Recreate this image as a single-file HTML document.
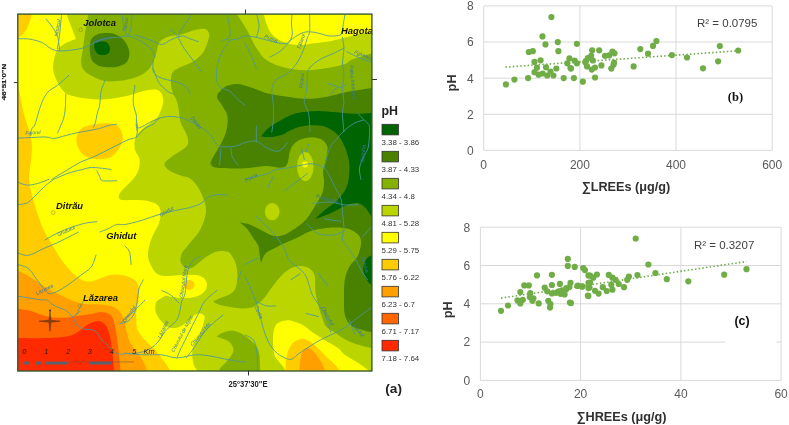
<!DOCTYPE html>
<html><head><meta charset="utf-8"><title>pH map and scatter plots</title>
<style>html,body{margin:0;padding:0;background:#fff;width:789px;height:425px;overflow:hidden}svg{display:block}</style>
</head><body>
<svg width="789" height="425" viewBox="0 0 789 425" font-family="'Liberation Sans', Arial, sans-serif">
<defs><clipPath id="mc"><rect x="17.8" y="14.1" width="354.1" height="356.9"/></clipPath></defs>
<rect x="0" y="0" width="789" height="425" fill="#84b000" clip-path="url(#mc)"/>
<g clip-path="url(#mc)"><path d="M10.0 5.0C10.0 5.0 88.0 5.0 88.0 5.0C88.0 5.0 88.5 10.3 88.0 15.0C87.5 19.7 85.9 27.2 85.0 33.0C84.1 38.8 83.4 45.3 82.8 50.0C82.2 54.7 81.2 57.8 81.2 61.0C81.2 64.2 81.4 66.6 83.0 69.0C84.6 71.4 87.4 73.5 91.0 75.5C94.6 77.5 100.1 80.1 104.6 81.0C109.1 81.9 113.6 81.3 117.8 81.0C122.0 80.7 126.1 80.0 130.0 79.0C133.9 78.0 137.8 76.7 141.0 75.0C144.2 73.3 146.8 71.7 149.0 69.0C151.2 66.3 153.2 62.2 154.5 59.0C155.8 55.8 156.2 52.8 157.0 50.0C157.8 47.2 158.0 44.1 159.5 42.0C161.0 39.9 163.4 38.5 166.0 37.4C168.6 36.3 172.2 35.9 175.0 35.3C177.8 34.7 179.7 34.9 183.0 34.0C186.3 33.1 191.3 30.8 195.0 30.0C198.7 29.2 202.6 28.3 205.0 29.0C207.4 29.7 208.9 31.7 209.2 34.2C209.5 36.7 208.2 40.7 207.0 44.0C205.8 47.3 204.7 50.9 202.0 54.0C199.3 57.1 194.9 60.5 191.0 62.8C187.1 65.1 181.7 66.2 178.5 68.0C175.3 69.8 173.2 70.7 172.0 73.4C170.8 76.1 170.8 80.7 171.0 84.0C171.2 87.3 172.1 90.8 173.0 93.5C173.9 96.2 175.6 97.6 176.5 100.0C177.4 102.4 177.7 104.3 178.4 108.0C179.1 111.7 179.3 118.0 180.5 122.0C181.7 126.0 184.2 129.0 185.5 132.0C186.8 135.0 187.9 137.5 188.0 140.0C188.1 142.5 188.7 144.3 186.0 147.0C183.3 149.7 175.6 153.6 172.0 156.4C168.4 159.2 164.8 161.6 164.5 164.0C164.2 166.4 167.3 169.1 170.0 171.0C172.7 172.9 177.2 174.2 180.5 175.5C183.8 176.8 187.0 176.4 190.0 178.5C193.0 180.6 196.1 184.1 198.5 188.0C200.9 191.9 203.3 198.4 204.6 202.0C205.8 205.6 205.9 207.1 206.0 209.5C206.1 211.9 205.9 213.7 205.3 216.2C204.7 218.7 203.7 221.9 202.5 224.7C201.3 227.5 200.0 230.4 198.2 233.1C196.4 235.8 193.5 238.6 191.5 241.0C189.5 243.4 187.8 245.6 186.3 247.5C184.8 249.4 183.2 250.8 182.3 252.5C181.4 254.2 180.8 256.3 180.6 258.0C180.3 259.7 180.4 261.3 180.8 262.6C181.2 263.9 182.2 264.9 183.2 265.9C184.2 266.8 185.8 267.9 187.0 268.3C188.2 268.7 189.3 268.8 190.7 268.3C192.1 267.8 193.7 266.7 195.4 265.4C197.1 264.1 199.1 262.3 201.1 260.7C203.1 259.1 205.6 257.3 207.6 256.0C209.6 254.7 211.4 253.5 213.3 252.7C215.2 251.9 217.1 251.5 219.0 251.3C220.9 251.1 222.8 251.0 224.6 251.3C226.4 251.6 228.2 251.2 230.0 253.2C231.8 255.2 234.4 259.5 235.6 263.2C236.8 266.9 237.4 271.5 237.4 275.6C237.4 279.7 236.8 284.9 235.6 288.0C234.4 291.1 232.7 292.4 230.3 294.0C227.9 295.6 223.9 296.6 221.0 297.8C218.1 299.1 213.0 301.5 213.0 301.5C213.0 301.5 217.2 304.1 220.0 305.0C222.8 305.9 226.3 306.4 230.0 307.0C233.7 307.6 238.9 308.4 242.4 308.5C245.9 308.6 248.6 308.3 251.0 307.6C253.4 306.9 254.9 306.0 257.0 304.5C259.1 303.0 261.2 301.6 263.8 298.5C266.4 295.4 269.5 290.3 272.7 286.2C275.9 282.1 280.0 276.9 283.2 273.8C286.4 270.7 289.2 269.0 292.1 267.7C295.1 266.4 298.0 265.8 300.9 265.9C303.8 266.0 307.4 266.8 309.7 268.5C312.0 270.2 313.9 272.4 314.8 276.0C315.7 279.6 314.7 285.4 315.3 290.2C315.9 295.0 317.1 300.5 318.2 305.0C319.3 309.5 320.7 313.4 322.0 317.0C323.3 320.6 323.8 323.9 326.0 326.5C328.2 329.1 332.3 330.7 335.0 332.5C337.7 334.3 339.0 335.7 342.0 337.5C345.0 339.3 348.3 341.4 353.1 343.1C357.9 344.9 366.5 347.0 371.0 348.0C375.5 349.0 380.0 349.0 380.0 349.0C380.0 349.0 380.0 380.0 380.0 380.0C380.0 380.0 10.0 380.0 10.0 380.0C10.0 380.0 10.0 5.0 10.0 5.0Z" fill="#bbd500"/><path d="M234.0 5.0C234.0 5.0 234.4 9.4 235.6 12.0C236.8 14.6 239.0 17.3 241.0 20.5C243.0 23.7 245.4 27.2 247.5 31.0C249.6 34.8 251.7 39.7 253.5 43.0C255.3 46.3 256.7 48.4 258.5 51.0C260.3 53.6 261.6 56.3 264.5 58.6C267.4 60.9 271.4 63.2 276.2 65.0C281.0 66.8 287.5 68.3 293.1 69.2C298.8 70.1 304.5 70.4 310.1 70.2C315.8 70.0 321.2 69.1 327.0 68.1C332.8 67.0 340.8 65.3 345.0 63.9C349.2 62.5 347.9 61.2 352.3 59.5C356.7 57.8 366.7 54.9 371.3 53.5C375.9 52.1 380.0 51.0 380.0 51.0C380.0 51.0 380.0 5.0 380.0 5.0C380.0 5.0 234.0 5.0 234.0 5.0Z" fill="#bbd500"/><path d="M10.0 5.0C10.0 5.0 67.0 5.0 67.0 5.0C67.0 5.0 66.1 11.0 67.0 15.0C67.9 19.0 70.7 25.0 72.2 29.0C73.7 33.0 76.0 39.0 76.0 39.0C76.0 39.0 69.0 41.3 66.0 43.0C63.0 44.7 60.0 46.4 58.0 49.0C56.0 51.6 55.0 55.2 54.2 58.6C53.4 62.0 52.8 65.7 53.1 69.2C53.5 72.7 54.9 76.5 56.3 79.8C57.7 83.1 59.8 86.7 61.6 89.0C63.4 91.3 64.9 92.7 67.0 93.9C69.1 95.1 70.5 95.4 74.0 96.2C77.5 97.0 83.4 98.2 88.0 98.8C92.6 99.3 97.2 99.6 101.8 99.5C106.4 99.4 111.2 98.8 115.8 98.1C120.4 97.4 125.5 96.3 129.7 95.3C133.9 94.2 137.4 92.7 140.9 91.8C144.4 90.9 147.8 90.1 150.6 89.8C153.4 89.5 155.7 89.3 157.6 90.0C159.5 90.7 160.9 92.2 161.8 94.0C162.7 95.8 163.2 98.7 163.2 101.0C163.2 103.3 162.7 105.3 161.8 108.0C160.9 110.7 159.4 114.6 157.6 117.0C155.8 119.4 153.7 120.2 150.8 122.5C147.9 124.8 142.8 128.2 140.2 131.0C137.6 133.8 135.9 136.3 135.0 139.5C134.1 142.7 134.3 147.1 135.0 150.0C135.7 152.9 138.1 154.8 138.9 157.1C139.7 159.4 139.9 161.5 139.7 164.1C139.5 166.7 138.7 170.0 137.5 172.6C136.3 175.2 134.6 177.3 132.6 179.7C130.6 182.0 127.7 184.4 125.5 186.7C123.3 189.0 120.7 191.6 119.6 193.5C118.5 195.4 118.4 196.9 119.0 198.0C119.6 199.1 119.8 199.8 123.0 200.1C126.2 200.4 133.8 199.9 138.2 200.1C142.6 200.3 146.3 200.7 149.5 201.5C152.7 202.3 155.7 203.3 157.5 205.0C159.3 206.7 160.3 208.9 160.6 211.8C160.9 214.7 160.4 218.9 159.3 222.4C158.2 225.9 155.6 229.5 154.0 233.0C152.4 236.5 150.8 240.0 149.8 243.5C148.8 247.0 148.1 250.9 148.0 254.0C147.9 257.1 148.2 259.0 149.4 262.0C150.6 265.0 152.9 269.8 155.1 272.1C157.3 274.4 158.7 275.3 162.6 275.8C166.5 276.3 173.7 275.4 178.5 275.2C183.3 275.0 187.7 274.7 191.2 274.8C194.7 274.9 197.2 275.0 199.6 275.8C201.9 276.6 204.1 278.3 205.3 279.8C206.5 281.3 207.0 282.9 207.0 284.7C207.0 286.4 206.5 288.5 205.3 290.3C204.1 292.1 201.9 294.1 199.6 295.3C197.2 296.6 194.2 297.3 191.2 297.8C188.1 298.3 184.4 298.2 181.3 298.1C178.2 298.0 175.4 297.4 172.8 297.0C170.2 296.6 168.0 295.8 166.0 296.0C164.0 296.2 162.3 297.4 160.7 298.4C159.1 299.4 157.3 300.1 156.4 302.0C155.5 303.9 155.0 307.0 155.3 309.6C155.6 312.2 156.5 315.0 158.4 317.7C160.3 320.4 163.9 324.2 166.6 325.9C169.3 327.6 172.1 328.2 174.8 328.0C177.5 327.8 180.6 326.3 183.0 324.9C185.4 323.5 186.9 321.6 189.1 319.8C191.3 318.0 194.1 315.3 196.1 314.3C198.1 313.3 199.6 313.2 201.0 313.6C202.4 314.0 204.2 315.2 204.6 316.8C205.0 318.4 204.2 320.6 203.6 323.0C203.0 325.4 202.2 328.1 201.0 331.0C199.8 333.9 197.7 336.9 196.3 340.2C194.9 343.4 192.9 346.8 192.4 350.5C191.9 354.2 192.4 359.1 193.2 362.7C194.0 366.3 196.6 369.1 197.3 372.0C198.0 374.9 197.5 380.0 197.5 380.0C197.5 380.0 10.0 380.0 10.0 380.0C10.0 380.0 10.0 5.0 10.0 5.0Z" fill="#ffff00"/><path d="M262.0 5.0C262.0 5.0 263.1 11.3 264.0 15.0C264.9 18.7 266.2 23.6 267.7 27.0C269.2 30.4 270.4 32.8 273.0 35.3C275.6 37.8 278.9 40.2 283.0 41.8C287.1 43.4 292.2 44.8 297.4 45.0C302.6 45.2 308.7 43.9 314.3 43.2C319.9 42.5 324.9 42.2 331.2 41.0C337.5 39.8 345.6 37.5 352.3 35.8C359.0 34.1 366.7 32.1 371.3 31.0C375.9 29.9 380.0 29.0 380.0 29.0C380.0 29.0 380.0 5.0 380.0 5.0C380.0 5.0 262.0 5.0 262.0 5.0Z" fill="#ffff00"/><path d="M285.0 380.0C285.0 380.0 285.6 372.4 284.7 369.5C283.8 366.6 281.3 364.9 279.7 362.7C278.1 360.4 275.9 358.8 274.8 356.0C273.7 353.2 273.5 349.5 273.2 346.0C272.9 342.5 272.9 338.2 273.2 335.0C273.5 331.8 273.9 328.7 275.0 326.5C276.1 324.3 277.5 323.0 280.0 322.0C282.5 321.0 286.3 319.9 290.1 320.4C293.9 320.9 298.9 323.0 302.7 325.0C306.5 327.0 309.0 329.9 312.8 332.5C316.6 335.1 321.2 337.9 325.4 340.5C329.6 343.1 334.7 345.7 338.0 348.1C341.3 350.5 341.7 352.6 345.0 355.0C348.3 357.4 353.8 360.2 357.6 362.6C361.4 365.1 365.2 368.0 367.6 369.7C370.0 371.4 369.9 371.6 372.0 373.0C374.1 374.4 380.0 378.0 380.0 378.0C380.0 378.0 380.0 380.0 380.0 380.0C380.0 380.0 285.0 380.0 285.0 380.0Z" fill="#ffff00"/><path d="M10.0 5.0C10.0 5.0 31.8 5.0 31.8 5.0C31.8 5.0 31.8 12.4 31.5 15.0C31.2 17.6 30.7 18.3 30.0 20.5C29.3 22.7 28.3 25.8 27.2 28.0C26.1 30.2 24.8 32.0 23.5 33.6C22.2 35.2 20.4 36.5 19.2 37.4C17.9 38.3 17.5 38.6 16.0 39.0C14.5 39.4 10.0 40.0 10.0 40.0C10.0 40.0 10.0 5.0 10.0 5.0Z" fill="#ffcc00"/><path d="M10.0 82.0C10.0 82.0 15.4 81.3 17.0 83.0C18.6 84.7 18.8 88.7 19.5 92.0C20.2 95.3 20.7 99.0 21.5 103.0C22.3 107.0 23.4 112.2 24.5 116.2C25.6 120.2 26.9 123.5 28.0 127.0C29.1 130.5 30.2 133.9 30.9 137.4C31.6 140.9 31.9 144.6 32.0 148.0C32.0 151.4 31.5 154.7 31.2 158.0C30.9 161.3 30.4 164.7 30.0 168.0C29.6 171.3 28.9 174.2 29.0 178.0C29.1 181.8 30.0 186.4 30.9 190.6C31.8 194.8 32.9 199.1 34.1 203.3C35.3 207.5 36.8 211.8 38.3 216.0C39.8 220.2 41.0 224.2 43.0 228.5C45.0 232.8 47.9 237.5 50.5 242.0C53.1 246.5 55.8 251.3 58.5 255.5C61.2 259.7 64.1 263.6 67.0 267.0C69.9 270.4 73.0 273.7 76.0 276.0C79.0 278.3 81.9 280.2 84.7 281.0C87.5 281.8 90.0 281.6 93.0 281.0C96.0 280.4 99.5 278.2 102.8 277.2C106.1 276.1 109.1 275.0 112.7 274.7C116.3 274.4 120.6 274.7 124.2 275.5C127.8 276.3 131.7 277.8 134.1 279.6C136.5 281.4 137.7 283.8 138.5 286.5C139.3 289.2 139.2 292.8 139.0 296.0C138.8 299.2 137.9 302.7 137.4 306.0C136.9 309.3 136.1 311.9 136.2 316.0C136.3 320.1 135.9 326.0 137.8 330.5C139.8 335.0 144.5 339.3 147.9 343.1C151.3 346.9 155.1 349.8 158.0 353.2C160.9 356.6 163.4 360.2 165.5 363.3C167.6 366.4 169.6 369.2 170.6 372.0C171.6 374.8 171.5 380.0 171.5 380.0C171.5 380.0 10.0 380.0 10.0 380.0C10.0 380.0 10.0 82.0 10.0 82.0Z" fill="#ffcc00"/><path d="M76.4 141.0C76.2 138.0 77.1 134.4 78.5 132.0C79.9 129.6 82.1 127.8 85.0 126.5C87.9 125.2 91.7 124.5 96.0 124.0C100.3 123.5 106.8 123.1 110.6 123.6C114.4 124.1 117.0 124.7 119.0 127.0C121.0 129.3 122.7 134.1 122.9 137.4C123.1 140.7 121.7 144.0 120.0 147.0C118.3 150.0 115.3 153.6 113.0 155.5C110.7 157.4 109.2 157.9 106.4 158.5C103.6 159.1 99.4 159.5 96.0 159.2C92.6 158.9 88.8 158.0 86.0 156.5C83.2 155.0 81.1 152.6 79.5 150.0C77.9 147.4 76.6 144.0 76.4 141.0Z" fill="#ffcc00"/><path d="M285.3 380.0C285.3 380.0 285.3 371.7 285.5 368.0C285.7 364.3 286.0 360.9 286.5 358.0C287.0 355.1 287.2 353.0 288.3 350.5C289.4 348.0 291.2 344.7 293.2 342.8C295.1 340.9 297.9 339.7 300.0 339.2C302.1 338.7 303.4 338.5 306.0 339.6C308.6 340.7 311.7 342.7 315.3 345.8C318.9 348.9 324.1 354.5 327.9 358.2C331.7 361.9 335.6 364.6 338.0 368.2C340.4 371.8 342.0 380.0 342.0 380.0C342.0 380.0 285.3 380.0 285.3 380.0Z" fill="#ffcc00"/><path d="M10.0 270.0C10.0 270.0 15.2 270.1 18.2 271.0C21.1 271.9 24.4 273.6 27.7 275.5C31.0 277.4 34.8 280.2 38.3 282.5C41.8 284.8 44.9 287.0 48.8 289.2C52.7 291.4 57.6 293.7 61.5 295.6C65.4 297.5 68.1 299.1 72.0 300.5C75.9 301.9 80.1 303.4 84.7 304.0C89.3 304.6 95.1 304.1 99.5 304.4C103.9 304.7 107.8 304.9 111.1 306.0C114.4 307.1 117.1 308.7 119.3 311.0C121.5 313.3 123.1 317.0 124.2 320.0C125.3 323.0 125.0 325.1 126.0 329.0C127.0 332.9 128.3 339.1 130.3 343.1C132.3 347.1 135.7 350.2 137.8 353.2C139.9 356.1 141.3 357.7 142.9 360.8C144.5 363.9 146.7 368.8 147.5 372.0C148.3 375.2 148.0 380.0 148.0 380.0C148.0 380.0 10.0 380.0 10.0 380.0C10.0 380.0 10.0 270.0 10.0 270.0Z" fill="#ffa000"/><path d="M299.0 380.0C299.0 380.0 299.2 371.7 299.5 368.0C299.8 364.3 299.9 360.8 300.5 358.0C301.1 355.2 301.8 352.6 303.0 351.0C304.2 349.4 305.9 348.0 307.8 348.1C309.7 348.2 312.0 349.8 314.1 351.9C316.2 354.0 318.7 358.0 320.4 360.7C322.1 363.4 323.2 365.0 324.1 368.2C325.0 371.4 326.0 380.0 326.0 380.0C326.0 380.0 299.0 380.0 299.0 380.0Z" fill="#ffa000"/><path d="M10.0 309.0C10.0 309.0 14.7 308.7 18.0 309.0C21.3 309.3 26.4 310.0 30.0 310.8C33.6 311.6 36.3 313.0 39.4 314.0C42.5 315.0 45.7 316.2 48.8 316.8C51.9 317.4 54.9 317.7 58.0 317.8C61.1 317.9 64.0 317.9 67.7 317.5C71.4 317.1 76.1 316.1 80.0 315.5C83.9 314.9 87.5 314.6 91.0 314.0C94.5 313.4 97.9 312.0 101.0 312.0C104.1 312.0 107.3 312.9 109.4 314.2C111.5 315.5 112.3 316.9 113.5 320.0C114.7 323.1 115.5 328.0 116.3 333.0C117.1 338.0 117.8 343.8 118.5 350.0C119.2 356.2 120.1 365.0 120.5 370.0C120.9 375.0 121.0 380.0 121.0 380.0C121.0 380.0 10.0 380.0 10.0 380.0C10.0 380.0 10.0 309.0 10.0 309.0Z" fill="#ff6600"/><path d="M10.0 338.0C10.0 338.0 13.3 338.0 18.4 338.0C23.5 338.0 33.9 338.3 40.4 338.2C46.9 338.1 52.3 338.1 57.4 337.6C62.5 337.2 67.2 336.7 71.0 335.5C74.8 334.3 77.5 332.1 80.0 330.5C82.5 328.9 84.0 327.1 86.0 325.8C88.0 324.5 89.7 323.4 92.0 322.6C94.3 321.8 97.4 320.7 99.7 321.2C102.0 321.7 104.1 323.0 105.8 325.5C107.5 328.0 108.7 331.7 109.8 336.0C110.9 340.3 111.5 345.8 112.2 351.5C112.9 357.2 113.6 365.2 114.0 370.0C114.4 374.8 114.5 380.0 114.5 380.0C114.5 380.0 10.0 380.0 10.0 380.0C10.0 380.0 10.0 338.0 10.0 338.0Z" fill="#ff2a00"/><path d="M216.5 336.6C216.5 336.6 219.7 334.0 222.0 333.0C224.3 332.0 227.7 330.8 230.5 330.7C233.3 330.6 235.9 331.1 239.0 332.5C242.1 333.9 246.4 336.8 249.2 339.0C252.0 341.2 254.2 343.3 255.9 345.8C257.6 348.3 258.6 350.2 259.3 354.2C260.0 358.1 260.0 365.2 260.2 369.5C260.4 373.8 260.5 380.0 260.5 380.0C260.5 380.0 218.0 380.0 218.0 380.0C218.0 380.0 218.3 372.4 219.5 369.5C220.7 366.6 223.3 365.2 225.4 362.7C227.5 360.1 230.9 356.7 232.2 354.2C233.5 351.7 233.7 349.6 233.1 347.5C232.5 345.4 230.7 343.0 228.8 341.5C227.0 340.0 224.1 339.4 222.0 338.6C219.9 337.8 216.5 336.6 216.5 336.6Z" fill="#84b000"/><path d="M91.5 39.0C92.6 37.4 94.2 35.8 96.4 34.8C98.6 33.8 101.6 33.2 104.6 33.1C107.6 33.0 111.5 32.9 114.5 33.9C117.5 34.9 120.6 36.8 122.8 38.9C125.0 41.0 126.6 43.7 127.7 46.3C128.8 48.9 129.7 51.8 129.4 54.5C129.1 57.2 128.3 60.7 126.1 62.8C123.9 64.9 119.8 66.2 116.2 66.9C112.6 67.6 107.9 67.4 104.6 67.0C101.3 66.6 98.6 65.7 96.4 64.4C94.2 63.2 92.6 61.7 91.5 59.5C90.4 57.3 90.0 53.7 89.8 51.2C89.5 48.7 89.7 46.6 90.0 44.6C90.3 42.6 90.4 40.6 91.5 39.0Z" fill="#488200"/><path d="M94.8 43.0C95.7 42.0 97.8 41.5 99.7 41.4C101.6 41.3 104.7 41.4 106.3 42.2C107.9 43.0 109.0 44.8 109.6 46.3C110.1 47.8 110.1 49.8 109.6 51.2C109.0 52.6 107.9 53.9 106.3 54.5C104.7 55.1 101.5 55.2 99.7 54.7C97.9 54.2 96.5 52.7 95.6 51.4C94.7 50.1 94.4 48.5 94.3 47.1C94.2 45.7 93.9 44.0 94.8 43.0Z" fill="#006400"/><path d="M217.0 97.0C216.8 94.4 219.2 91.9 221.0 90.0C222.8 88.1 225.2 86.5 228.0 85.5C230.8 84.5 234.7 83.8 238.0 84.0C241.3 84.2 244.7 85.5 248.0 86.5C251.3 87.5 254.7 88.8 258.0 90.0C261.3 91.2 263.2 92.4 268.0 93.5C272.8 94.6 280.3 95.8 287.0 96.7C293.7 97.6 301.3 98.8 308.0 98.8C314.7 98.8 320.8 97.8 327.0 96.7C333.2 95.7 337.6 93.9 345.0 92.5C352.4 91.1 365.5 89.0 371.3 88.1C377.1 87.2 380.0 87.0 380.0 87.0C380.0 87.0 380.0 331.0 380.0 331.0C380.0 331.0 375.3 332.1 372.7 332.0C370.1 331.9 368.0 331.5 364.4 330.4C360.8 329.3 354.4 327.9 351.2 325.4C348.0 322.9 346.2 319.9 345.0 315.5C343.8 311.1 344.0 305.0 344.0 299.0C344.0 293.0 343.9 284.9 344.8 279.5C345.7 274.1 347.5 270.3 349.6 266.5C351.7 262.7 355.6 260.3 357.5 256.5C359.4 252.7 360.8 247.1 361.0 243.5C361.2 239.9 360.6 237.4 358.5 235.0C356.4 232.6 352.8 230.1 348.3 228.8C343.8 227.6 337.4 227.2 331.4 227.5C325.4 227.8 317.4 229.2 312.3 230.6C307.2 232.0 304.4 234.2 301.0 235.8C297.6 237.4 295.0 238.7 292.0 240.0C289.0 241.3 285.9 242.6 283.2 243.8C280.5 245.1 278.5 246.2 276.0 247.5C273.5 248.8 270.0 250.2 268.0 251.5C266.0 252.8 265.2 253.5 264.0 255.5C262.8 257.5 261.0 263.5 261.0 263.5C261.0 263.5 260.1 257.9 259.6 255.0C259.2 252.1 259.4 248.9 258.3 246.0C257.2 243.1 255.0 240.5 253.0 237.5C251.0 234.5 248.6 230.5 246.4 228.0C244.2 225.5 239.6 222.4 239.6 222.4C239.6 222.4 245.5 222.9 249.1 224.2C252.7 225.5 257.2 228.1 261.0 230.0C264.8 231.9 268.5 234.6 272.0 235.5C275.5 236.4 278.7 236.3 282.0 235.5C285.3 234.7 288.1 233.2 292.0 230.6C295.9 228.0 301.8 224.1 305.6 220.0C309.4 215.9 312.3 210.3 315.0 206.0C317.7 201.7 320.5 198.0 322.0 194.1C323.5 190.2 323.8 186.3 324.0 182.4C324.2 178.5 322.9 174.5 323.2 170.5C323.5 166.5 325.3 162.4 326.0 158.5C326.7 154.6 328.1 150.1 327.4 147.0C326.7 143.9 324.5 141.4 322.0 139.8C319.5 138.2 315.8 137.2 312.2 137.2C308.6 137.1 303.7 138.2 300.5 139.5C297.3 140.8 294.8 142.8 293.0 145.0C291.2 147.2 290.4 150.0 289.5 153.0C288.6 156.0 288.8 160.6 287.6 163.0C286.4 165.4 285.8 167.1 282.1 167.6C278.4 168.1 271.1 165.9 265.6 166.0C260.1 166.1 254.2 167.6 249.1 168.0C244.0 168.4 239.5 168.5 235.0 168.5C230.5 168.5 225.6 168.2 222.0 168.0C218.4 167.8 215.5 167.9 213.6 167.0C211.7 166.1 210.4 164.9 210.6 162.8C210.8 160.7 213.0 157.5 214.7 154.3C216.4 151.1 219.1 147.6 221.0 143.7C222.9 139.8 225.2 135.6 226.3 131.0C227.4 126.4 228.1 120.4 227.4 116.2C226.7 112.0 223.8 108.8 222.1 105.6C220.4 102.4 217.2 99.6 217.0 97.0Z" fill="#488200"/><ellipse cx="305.3" cy="166.5" rx="8.3" ry="14.6" fill="#bbd500"/><ellipse cx="272.2" cy="211.6" rx="7.4" ry="8.6" fill="#bbd500"/><ellipse cx="305.0" cy="164.4" rx="2.9" ry="3.0" fill="#ffff00"/><path d="M261.0 136.5C261.0 136.5 265.7 130.2 269.0 127.5C272.3 124.8 276.9 122.5 280.6 120.4C284.3 118.3 288.0 116.4 291.2 115.1C294.4 113.8 295.5 113.2 300.0 112.5C304.5 111.8 312.3 110.9 318.4 110.9C324.5 110.9 330.6 111.8 336.7 112.3C342.8 112.8 349.4 113.7 355.1 113.8C360.8 113.9 366.9 113.1 371.0 113.0C375.1 112.9 380.0 113.0 380.0 113.0C380.0 113.0 380.0 218.0 380.0 218.0C380.0 218.0 374.2 218.1 371.9 216.5C369.6 214.9 368.3 210.7 366.0 208.5C363.7 206.3 361.6 203.7 358.2 203.2C354.8 202.7 350.5 203.9 345.9 205.6C341.3 207.3 335.8 211.1 330.6 213.3C325.5 215.5 315.0 219.0 315.0 219.0C315.0 219.0 320.9 213.2 324.5 210.2C328.1 207.2 333.1 204.6 336.7 201.0C340.3 197.4 343.8 192.9 345.9 188.8C347.9 184.7 348.5 181.1 349.0 176.5C349.5 171.9 349.8 166.3 349.0 161.2C348.2 156.1 346.4 150.6 344.4 146.0C342.3 141.4 340.0 136.9 336.7 133.7C333.4 130.4 328.6 127.9 324.5 126.5C320.4 125.1 316.3 125.2 312.2 125.2C308.1 125.2 303.7 125.9 300.0 126.8C296.3 127.7 292.9 129.2 290.0 130.5C287.1 131.8 285.7 133.5 282.7 134.6C279.7 135.7 275.6 136.7 272.0 137.0C268.4 137.3 261.0 136.5 261.0 136.5Z" fill="#006400"/><path d="M380.0 254.0C380.0 254.0 373.3 254.6 371.0 255.5C368.7 256.4 367.2 257.8 366.0 259.5C364.8 261.2 363.9 263.8 363.5 266.0C363.1 268.2 363.2 270.8 363.7 273.0C364.2 275.2 365.3 277.6 366.5 279.5C367.7 281.4 368.8 283.4 371.0 284.5C373.2 285.6 380.0 286.0 380.0 286.0C380.0 286.0 380.0 254.0 380.0 254.0Z" fill="#006400"/><ellipse cx="189.0" cy="285.0" rx="5.4" ry="5.0" fill="#ffcc00"/><g fill="none" stroke="#4b97a2" stroke-width="1.0" stroke-linejoin="round" stroke-linecap="round" opacity="0.85"><path d="M14.0 38.8C16.1 38.8 22.8 38.6 26.3 38.8C29.8 39.0 32.0 39.5 34.8 40.2C37.6 40.9 40.9 41.9 43.2 43.1C45.6 44.3 47.0 46.1 48.9 47.3C50.8 48.5 52.6 49.5 54.5 50.1C56.4 50.7 57.4 51.0 60.2 51.0C63.0 51.0 67.7 50.6 71.5 50.1C75.3 49.6 79.5 49.0 82.8 48.1C86.1 47.2 88.4 45.8 91.2 44.5C94.0 43.2 96.9 41.3 99.7 40.2C102.5 39.1 105.4 38.5 108.2 38.0C111.0 37.5 113.4 37.7 116.7 37.4C120.0 37.1 124.7 35.8 128.0 36.0C131.3 36.2 133.0 37.1 136.3 38.8C139.6 40.4 144.8 43.8 147.6 45.9C150.4 48.0 152.0 49.6 153.2 51.5C154.4 53.4 154.4 56.2 154.7 57.2"/><path d="M135.0 35.0C137.5 35.8 145.6 38.4 150.0 40.0C154.4 41.6 158.3 44.5 161.7 44.5C165.1 44.5 166.9 41.6 170.2 40.2C173.5 38.8 178.2 36.2 181.5 36.0C184.8 35.8 187.2 37.8 190.0 38.8C192.8 39.8 197.0 41.2 198.4 41.7"/><path d="M46.1 19.1C47.0 20.3 49.8 23.3 51.7 26.1C53.6 28.9 56.1 32.0 57.4 36.0C58.7 40.0 59.2 47.8 59.6 50.1"/><path d="M61.6 13.0C61.4 15.7 60.7 24.5 60.2 29.0C59.7 33.5 59.3 36.9 58.8 40.2C58.3 43.5 57.6 47.3 57.4 48.7"/><path d="M68.7 75.5C66.8 77.2 60.7 82.8 57.4 85.4C54.1 88.0 51.3 88.8 48.9 91.1C46.5 93.4 44.9 96.2 43.2 99.5C41.6 102.8 40.4 106.5 39.0 110.8C37.6 115.0 36.0 122.0 34.8 125.0C33.6 128.0 32.7 126.7 31.9 128.5C31.1 130.3 30.3 134.8 30.0 136.0"/><path d="M65.8 93.9C65.7 96.2 65.6 104.0 65.3 108.0C65.0 112.0 64.5 114.8 63.7 118.0C62.9 121.2 61.2 124.5 60.2 127.0C59.2 129.5 57.9 132.1 57.4 133.1"/><path d="M105.4 79.8C104.7 81.7 102.0 86.9 101.1 91.1C100.1 95.3 100.3 101.7 99.7 105.2C99.1 108.7 98.3 109.2 97.6 112.0C96.9 114.8 96.2 119.4 95.5 122.0C94.8 124.6 93.8 126.6 93.4 127.5"/><path d="M122.3 13.0C122.5 15.2 123.2 23.0 123.7 26.1C124.2 29.2 124.4 30.2 125.1 31.8C125.8 33.5 127.5 35.3 128.0 36.0"/><path d="M132.2 13.0C132.0 15.6 131.4 25.2 130.8 28.9C130.2 32.6 128.9 34.0 128.5 35.0"/><path d="M135.0 85.4C134.8 87.0 133.8 91.7 133.5 95.0C133.2 98.3 133.0 101.9 133.5 105.2C134.0 108.5 135.8 111.7 136.3 115.0C136.8 118.3 136.2 122.3 136.3 125.0C136.4 127.7 136.9 130.0 137.0 131.0"/><path d="M14.0 138.4C17.0 138.2 26.5 137.7 31.9 137.5C37.2 137.3 42.3 136.8 46.1 137.0C49.9 137.2 51.2 138.7 54.5 138.4C57.8 138.2 62.0 136.4 65.8 135.5C69.6 134.6 73.3 133.5 77.1 132.7C80.9 131.9 84.6 131.4 88.4 130.7C92.2 130.0 96.4 129.3 99.7 128.5C103.0 127.7 105.4 126.3 108.2 125.6C111.0 124.9 115.3 124.4 116.7 124.2"/><path d="M14.0 204.7C16.1 204.5 22.8 204.7 26.3 203.3C29.8 201.9 32.0 198.8 34.8 196.2C37.6 193.6 40.4 190.4 43.2 187.8C46.0 185.2 48.9 182.6 51.7 180.7C54.5 178.8 56.9 177.9 60.2 176.5C63.5 175.1 67.7 173.4 71.5 172.2C75.3 171.0 79.5 170.2 82.8 169.4C86.1 168.6 88.4 167.6 91.2 167.4C94.0 167.2 96.4 167.7 99.7 168.0C103.0 168.3 109.1 169.2 111.0 169.4"/><path d="M96.9 170.8C97.4 171.8 98.8 174.8 99.7 176.5C100.6 178.2 99.7 180.0 102.5 180.7C105.3 181.4 114.3 180.7 116.7 180.7"/><path d="M14.0 180.7C16.1 181.4 22.4 184.5 26.3 185.0C30.2 185.5 33.8 184.4 37.6 183.5C41.4 182.6 47.0 180.0 48.9 179.3"/><path d="M51.7 179.3C54.1 177.9 61.1 173.6 65.8 170.8C70.5 168.0 75.3 164.8 80.0 162.4C84.7 160.1 89.9 158.6 94.1 156.7C98.3 154.8 101.6 153.0 105.4 151.1C109.2 149.2 112.9 147.3 116.7 145.4C120.5 143.5 124.7 141.2 128.0 139.8C131.3 138.4 133.5 138.9 136.3 137.0C139.1 135.1 142.0 130.6 144.8 128.5C147.6 126.4 150.8 126.0 153.2 124.2C155.5 122.5 157.9 119.0 158.9 118.0"/><path d="M136.3 120.0C136.5 121.4 137.7 125.7 137.7 128.5C137.7 131.3 136.5 135.6 136.3 137.0"/><path d="M45.0 240.0C47.1 238.8 53.0 235.1 57.4 233.0C61.8 230.9 66.8 229.0 71.5 227.3C76.2 225.7 81.4 224.0 85.6 223.1C89.8 222.2 95.0 221.9 96.9 221.7"/><path d="M100.0 232.0C101.4 231.4 105.4 229.9 108.2 228.7C111.0 227.4 113.9 225.2 116.7 224.5C119.5 223.8 120.8 225.2 125.0 224.5C129.2 223.8 136.2 222.0 141.9 220.3C147.6 218.7 153.2 216.2 158.9 214.6C164.6 212.9 170.6 211.6 175.8 210.4C181.0 209.2 185.8 208.7 190.0 207.5C194.2 206.3 198.4 204.9 201.2 203.3C204.0 201.7 204.5 199.1 206.9 197.7C209.3 196.3 212.1 195.3 215.4 194.8C218.7 194.3 224.8 194.8 226.7 194.8"/><path d="M187.1 120.0C186.2 119.7 184.8 118.5 181.5 117.9C178.2 117.3 172.1 116.0 167.4 116.5C162.7 117.0 157.9 118.8 153.2 120.7C148.5 122.6 141.9 127.3 139.1 128.0C136.3 128.7 136.8 125.5 136.3 125.0"/><path d="M187.1 120.0C189.0 120.9 194.6 123.2 198.4 125.6C202.2 127.9 206.4 130.8 209.7 134.1C213.0 137.4 214.9 143.3 218.2 145.4C221.5 147.5 226.2 146.8 229.5 146.8C232.8 146.8 235.4 146.1 238.0 145.4C240.6 144.7 241.9 143.3 245.0 142.6C248.1 141.9 252.5 140.2 256.3 141.2C260.1 142.1 263.8 146.7 267.6 148.3C271.4 150.0 275.6 152.1 278.9 151.1C282.2 150.1 286.0 144.0 287.4 142.6"/><path d="M221.0 148.2L219.6 165.2"/><path d="M230.9 148.2C231.1 149.6 231.1 153.9 232.3 156.7C233.5 159.5 237.1 163.8 238.0 165.2"/><path d="M192.8 13.0C191.6 14.7 187.8 20.2 185.7 23.3C183.6 26.4 181.2 29.5 180.0 31.8C178.8 34.1 178.9 36.5 178.7 37.4"/><path d="M170.2 29.0L178.7 37.4"/><path d="M178.7 38.8C179.6 40.4 182.0 45.2 184.3 48.7C186.7 52.2 190.0 56.2 192.8 60.0C195.6 63.8 199.8 69.4 201.2 71.3"/><path d="M153.2 60.0C153.2 61.9 152.2 68.5 153.2 71.3C154.1 74.1 156.5 75.6 158.9 77.0C161.3 78.4 164.1 78.9 167.4 79.8C170.7 80.7 175.4 81.2 178.7 82.6C182.0 84.0 185.2 86.3 187.1 88.2C189.0 90.1 189.5 93.0 190.0 93.9"/><path d="M153.2 68.5C154.1 70.8 156.5 78.8 158.9 82.6C161.3 86.4 165.1 89.2 167.4 91.1C169.8 93.0 172.1 93.4 173.0 93.9"/><path d="M226.7 13.0C227.2 15.2 229.0 22.0 229.5 26.1C230.0 30.2 230.7 35.0 229.5 37.4C228.3 39.8 223.6 39.7 222.4 40.2"/><path d="M229.5 40.2C230.9 40.0 235.4 39.5 238.0 38.8C240.6 38.1 241.9 36.2 245.0 36.0C248.1 35.8 252.5 36.7 256.3 37.4C260.1 38.1 263.8 39.3 267.6 40.3C271.4 41.2 275.6 42.6 278.9 43.1C282.2 43.6 285.5 43.6 287.4 43.1C289.3 42.6 287.8 41.9 290.2 40.3C292.6 38.6 298.2 34.6 301.5 33.2C304.8 31.8 307.2 31.8 310.0 31.8C312.8 31.8 315.2 32.5 318.5 33.2C321.8 33.9 326.0 35.8 329.8 36.0C333.6 36.2 339.0 35.8 341.1 34.6C343.2 33.4 342.0 31.4 342.5 29.0C343.0 26.6 343.4 23.2 343.9 20.5C344.4 17.8 345.1 14.2 345.3 13.0"/><path d="M229.5 40.2C228.1 42.6 223.1 49.7 221.0 54.4C218.9 59.1 217.3 63.3 216.8 68.5C216.3 73.7 216.1 81.6 218.2 85.4C220.3 89.2 226.2 88.8 229.5 91.1C232.8 93.4 235.4 97.2 238.0 99.5C240.6 101.8 243.8 104.2 245.0 105.2"/><path d="M256.3 13.0C256.8 15.2 259.1 22.0 259.1 26.1C259.1 30.2 256.8 35.5 256.3 37.4"/><path d="M292.0 13.0C291.9 15.0 291.4 21.6 291.5 25.0C291.6 28.4 292.5 30.7 292.4 33.2C292.3 35.7 291.5 38.0 290.7 39.8C289.9 41.6 289.3 42.1 287.5 44.0C285.7 45.9 282.9 49.2 280.0 51.4C277.1 53.6 271.7 56.1 270.0 57.0"/><path d="M309.6 14.0C309.6 16.9 310.0 27.6 309.6 31.6C309.2 35.6 308.0 35.7 307.2 38.2C306.4 40.7 305.7 43.7 304.7 46.4C303.7 49.1 302.5 52.1 301.4 54.6C300.3 57.1 299.5 59.0 298.1 61.2C296.7 63.4 294.9 65.9 293.2 67.8C291.5 69.7 289.8 71.4 288.2 72.8C286.6 74.2 285.2 75.0 283.3 76.0C281.4 77.0 278.7 77.7 277.0 79.0C275.3 80.3 274.2 82.0 273.3 84.0C272.4 86.0 271.8 87.5 271.8 91.1C271.8 94.6 273.1 100.6 273.3 105.3C273.6 110.0 273.6 115.0 273.3 119.4C273.1 123.9 272.1 129.9 271.8 132.0"/><path d="M344.2 48.0C342.6 48.8 338.0 51.3 334.4 53.0C330.8 54.7 326.4 56.1 322.8 58.0C319.2 59.9 315.4 62.3 312.9 64.5C310.4 66.7 308.9 68.6 308.0 71.1C307.1 73.6 307.5 76.0 307.2 79.3C306.9 82.6 306.7 88.3 306.4 90.9C306.1 93.5 305.9 93.1 305.5 95.0C305.1 96.9 303.8 99.3 304.3 102.4C304.8 105.5 307.7 108.8 308.6 113.7C309.6 118.6 309.8 128.9 310.0 132.0"/><path d="M245.0 43.1C245.9 45.0 248.8 50.2 250.7 54.4C252.6 58.6 255.4 66.2 256.3 68.5"/><path d="M342.5 37.4C342.7 39.3 343.9 44.5 343.9 48.7C343.9 53.0 342.5 58.6 342.5 62.9C342.5 67.2 343.9 70.0 343.9 74.2C343.9 78.4 342.5 83.6 342.5 88.3C342.5 93.0 343.9 98.2 343.9 102.4C343.9 106.6 342.5 108.8 342.5 113.7C342.5 118.6 343.7 128.9 343.9 132.0"/><path d="M346.7 51.6C348.6 52.5 354.2 55.6 358.0 57.2C361.8 58.9 366.7 60.5 369.4 61.5C372.1 62.5 373.2 62.8 374.0 63.0"/><path d="M327.8 83.5C329.2 83.9 333.8 85.2 336.0 85.9C338.2 86.6 339.2 87.9 340.9 87.6C342.5 87.3 345.1 84.8 345.9 84.3"/><path d="M331.0 95.0C331.5 94.2 332.8 91.3 334.0 90.0C335.2 88.7 337.3 87.5 338.0 87.0"/><path d="M358.0 113.7C358.9 114.7 361.8 117.5 363.7 119.4C365.6 121.3 368.4 124.1 369.4 125.0"/><path d="M256.3 125.7L256.3 141.2"/><path d="M245.0 179.3C246.9 178.8 252.5 177.4 256.3 176.5C260.1 175.6 264.3 174.9 267.6 173.7C270.9 172.5 272.8 170.4 276.1 169.5C279.4 168.6 283.2 168.7 287.4 168.0C291.6 167.3 297.3 165.9 301.5 165.2C305.7 164.5 309.0 163.3 312.8 163.8C316.6 164.3 321.3 165.9 324.1 168.0C326.9 170.1 327.9 173.2 329.8 176.5C331.7 179.8 333.5 184.0 335.4 187.8C337.3 191.6 339.9 194.8 341.1 199.1C342.3 203.3 342.0 208.6 342.5 213.3C343.0 218.0 343.9 223.0 343.9 227.4C343.9 231.8 341.6 236.4 342.5 240.0C343.4 243.6 347.0 246.1 349.1 249.2C351.2 252.3 353.1 254.8 355.2 258.4C357.2 262.0 359.3 267.0 361.4 270.6C363.4 274.2 366.5 278.3 367.5 279.8"/><path d="M267.6 187.8L273.3 176.5"/><path d="M284.6 190.7C286.5 189.3 292.1 185.0 295.9 182.2C299.7 179.4 305.3 175.1 307.2 173.7"/><path d="M301.5 148.3L304.3 159.6"/><path d="M308.6 144.0L306.0 152.0"/><path d="M324.1 168.0C325.1 164.7 327.4 153.5 329.8 148.3C332.2 143.1 335.5 140.3 338.3 137.0C341.1 133.7 343.9 130.9 346.7 128.5C349.5 126.1 352.4 124.2 355.2 122.8C358.0 121.4 362.3 120.5 363.7 120.0"/><path d="M360.9 179.3C360.7 177.4 359.0 171.8 359.5 168.0C360.0 164.2 362.3 160.0 363.7 156.7C365.1 153.4 367.1 151.6 368.0 148.3C368.9 145.0 369.2 140.8 369.4 137.0C369.6 133.2 369.4 127.6 369.4 125.7"/><path d="M256.3 216.1C257.7 217.5 262.0 221.8 264.8 224.6C267.6 227.4 271.0 230.4 273.3 233.0C275.6 235.6 277.0 237.3 278.9 240.0C280.8 242.7 283.3 246.1 284.8 249.2C286.3 252.3 286.4 255.8 287.9 258.4C289.4 260.9 291.7 262.5 294.0 264.5C296.3 266.5 299.6 268.6 301.6 270.6C303.6 272.6 304.9 274.1 306.2 276.7C307.5 279.2 308.3 282.8 309.3 285.9C310.3 289.0 310.9 292.0 312.4 295.1C313.9 298.2 316.5 301.2 318.5 304.3C320.5 307.4 323.1 310.4 324.6 313.5C326.1 316.6 326.7 319.6 327.7 322.7C328.7 325.8 330.2 330.4 330.7 331.9"/><path d="M324.7 218.8C326.2 219.1 331.2 220.1 334.0 220.5C336.8 220.9 340.0 221.1 341.2 221.2"/><path d="M307.0 223.5C307.8 224.4 310.2 227.3 312.0 229.0C313.8 230.7 315.3 232.5 317.6 233.5C319.9 234.5 323.1 234.8 326.0 235.0C328.9 235.2 332.2 235.4 335.3 234.7C338.4 234.0 343.1 231.3 344.7 230.6"/><path d="M312.8 203.4C315.6 203.2 324.6 201.8 329.8 202.0C335.0 202.2 339.2 204.3 343.9 204.8C348.6 205.3 355.6 204.8 358.0 204.8"/><path d="M374.0 224.0C373.4 224.6 371.9 226.1 370.6 227.6C369.3 229.1 367.4 231.4 366.0 233.0C364.6 234.6 363.0 236.3 362.4 237.0"/><path d="M245.0 276.7C245.8 278.2 247.8 281.8 249.6 285.9C251.4 290.0 253.9 296.1 255.7 301.2C257.5 306.3 259.0 312.0 260.3 316.6C261.6 321.2 262.1 324.7 263.4 328.8C264.7 332.9 266.2 337.4 268.0 341.0C269.8 344.6 271.8 347.6 274.1 350.2C276.4 352.8 278.9 354.9 281.7 356.4C284.5 357.9 288.3 359.7 290.9 359.4C293.5 359.1 294.6 356.6 297.1 354.8C299.7 353.0 302.6 351.0 306.2 348.7C309.8 346.4 314.4 343.3 318.5 341.0C322.6 338.7 326.6 336.9 330.7 334.9C334.8 332.9 338.9 331.4 343.0 328.8C347.1 326.2 351.1 322.7 355.2 319.6C359.3 316.5 364.4 312.7 367.5 310.4C370.6 308.1 372.9 306.6 374.0 305.8"/><path d="M255.7 301.2C257.5 302.0 263.1 305.0 266.4 305.8C269.7 306.6 274.1 305.8 275.6 305.8"/><path d="M318.5 273.7L327.7 285.9"/><path d="M290.9 279.8L300.1 273.7"/><path d="M306.2 313.5L318.5 316.6"/><path d="M245.0 334.9C246.5 335.9 252.2 337.4 254.2 341.0C256.2 344.6 256.7 351.2 257.2 356.4C257.7 361.6 257.2 369.4 257.2 372.0"/><path d="M245.0 264.5C246.0 264.0 248.9 262.5 251.1 261.4C253.3 260.3 256.9 258.6 258.0 258.0"/><path d="M349.1 319.6C349.6 321.1 351.2 326.4 352.2 328.8C353.2 331.2 354.5 333.1 355.0 334.0"/><path d="M200.0 256.8C198.7 257.6 194.3 259.1 192.3 261.4C190.3 263.7 188.8 267.0 187.8 270.6C186.8 274.2 186.7 278.8 186.2 282.9C185.7 287.0 185.5 292.1 184.7 295.1C183.9 298.2 182.4 298.6 181.6 301.2C180.8 303.8 180.9 307.3 180.1 310.4C179.3 313.5 178.5 317.1 177.0 319.6C175.5 322.2 172.9 323.7 170.9 325.7C168.9 327.7 166.8 329.2 164.8 331.8C162.8 334.4 160.8 338.4 158.7 341.0C156.6 343.6 155.1 345.3 152.5 347.1C149.9 348.9 146.5 350.7 143.4 351.7C140.3 352.7 137.3 353.0 134.2 353.3C131.1 353.6 127.1 353.2 125.0 353.3C122.9 353.4 123.5 354.3 121.8 354.2C120.1 354.1 117.3 353.9 115.0 352.5C112.7 351.1 110.5 348.1 108.2 345.8C105.9 343.6 103.4 341.3 101.4 339.0C99.4 336.7 98.1 333.8 96.4 332.2C94.7 330.6 93.6 330.3 91.3 329.7C89.0 329.1 85.3 329.8 82.8 328.8C80.2 327.8 77.7 325.7 76.0 323.7C74.3 321.7 74.3 319.2 72.6 317.0C70.9 314.8 67.7 311.8 65.8 310.4C63.9 309.0 62.7 309.1 61.1 308.5C59.5 307.9 58.0 307.4 56.4 306.6C54.8 305.8 53.3 304.9 51.7 303.8C50.1 302.7 48.9 300.7 47.0 300.0C45.1 299.3 43.6 300.2 40.4 299.8C37.2 299.4 32.1 298.4 27.7 297.7C23.3 297.0 16.3 296.0 14.0 295.6"/><path d="M161.7 290.5C163.2 291.3 168.1 293.1 170.9 295.1C173.7 297.2 177.3 301.5 178.6 302.8"/><path d="M216.8 290.5C214.8 292.3 207.7 297.4 204.6 301.2C201.5 305.0 200.6 309.4 198.5 313.5C196.4 317.6 194.4 321.6 192.3 325.7C190.2 329.8 188.2 333.9 186.2 338.0C184.2 342.1 181.6 346.9 180.1 350.2C178.6 353.5 177.5 356.6 177.0 357.9"/><path d="M223.0 315.0C221.5 316.3 216.9 319.8 213.8 322.6C210.7 325.4 207.2 328.7 204.6 331.8C202.0 334.9 200.6 337.9 198.5 341.0C196.4 344.1 194.4 347.4 192.3 350.2C190.2 353.0 187.2 356.6 186.2 357.9"/><path d="M125.0 353.3C128.1 353.6 137.3 354.6 143.4 354.8C149.5 355.1 156.1 354.3 161.7 354.8C167.3 355.3 171.4 357.9 177.0 357.9C182.6 357.9 189.9 355.1 195.4 354.8C200.9 354.5 204.2 355.1 210.0 356.0C215.8 356.9 224.2 359.0 230.0 360.0C235.8 361.0 242.5 361.7 245.0 362.0"/><path d="M125.0 246.1C125.8 247.1 128.6 249.1 129.6 252.2C130.6 255.3 130.8 262.4 131.1 264.5"/><path d="M143.4 279.8C142.6 281.3 139.8 285.4 138.8 289.0C137.8 292.6 138.0 297.1 137.2 301.2C136.4 305.3 135.7 310.2 134.2 313.5C132.7 316.8 130.4 319.4 128.1 321.1C125.8 322.8 121.4 323.3 120.1 323.7"/><path d="M120.1 323.7C121.2 322.6 124.4 319.2 126.9 317.0C129.4 314.8 132.0 313.0 135.0 310.2C138.0 307.4 143.3 301.7 145.0 300.0"/><path d="M241.3 270.6L238.3 279.8"/><path d="M14.0 251.2C16.3 251.9 22.9 255.8 27.7 255.4C32.5 255.0 37.6 251.1 42.5 249.0C47.4 246.9 52.7 244.8 57.3 242.7C61.9 240.6 66.5 238.1 70.0 236.3C73.5 234.5 77.1 232.8 78.5 232.1"/><path d="M14.0 263.8C16.3 264.5 24.0 265.5 27.7 268.0C31.4 270.5 33.7 275.4 36.2 278.6C38.7 281.8 40.4 284.6 42.5 287.1C44.6 289.6 46.3 292.8 48.8 293.5C51.3 294.2 54.1 292.7 57.3 291.3C60.5 289.9 64.7 287.1 67.9 285.0C71.1 282.9 73.5 280.7 76.3 278.6C79.1 276.5 82.4 274.4 85.0 272.3C87.6 270.2 90.2 268.9 92.0 266.0C93.8 263.1 95.3 256.8 96.0 255.0"/><path d="M82.8 301.7C82.2 302.8 80.5 306.3 79.4 308.5C78.3 310.7 76.6 313.9 76.0 315.0"/><path d="M72.4 317.0C73.2 316.5 75.8 315.1 77.1 314.1C78.4 313.2 79.5 311.8 80.0 311.3"/></g></g>
<g font-style="italic" fill="#3a78a8" text-anchor="middle">
<text transform="translate(57.5 28.0) rotate(-80)" y="1.8" font-size="5.2">Nisacul</text>
<text transform="translate(125.5 24.5) rotate(-80)" y="1.8" font-size="5.0">Tarcul</text>
<text transform="translate(101.0 39.5) rotate(-15)" y="1.8" font-size="5.2">Jolotca</text>
<text transform="translate(33.0 132.5) rotate(-3)" y="1.8" font-size="5.0">Fajorul</text>
<text transform="translate(271.0 38.5) rotate(22)" y="1.8" font-size="5.2">Putna</text>
<text transform="translate(301.0 41.5) rotate(-72)" y="1.8" font-size="5.2">Tătarul</text>
<text transform="translate(301.5 81.0) rotate(-85)" y="1.8" font-size="5.2">Tisarul</text>
<text transform="translate(363.0 55.0) rotate(22)" y="1.8" font-size="5.0">Fgheaul</text>
<text transform="translate(353.0 82.0) rotate(85)" y="1.8" font-size="5.0">Putna Intorsura</text>
<text transform="translate(196.0 122.5) rotate(50)" y="1.9" font-size="5.4">Ditrău</text>
<text transform="translate(251.0 177.5) rotate(-30)" y="1.9" font-size="5.4">Pinca</text>
<text transform="translate(363.0 153.5) rotate(-85)" y="1.8" font-size="5.2">Belcina</text>
<text transform="translate(328.0 199.0) rotate(14)" y="1.8" font-size="5.2">Pârâul Mic</text>
<text transform="translate(166.5 211.5) rotate(-30)" y="1.8" font-size="5.2">Ghidut</text>
<text transform="translate(66.0 231.0) rotate(-25)" y="1.8" font-size="5.0">Ghidutul</text>
<text transform="translate(44.5 289.5) rotate(-27)" y="1.8" font-size="5.2">Lăzarea</text>
<text transform="translate(129.0 314.0) rotate(-55)" y="1.8" font-size="5.0">Gheudul</text>
<text transform="translate(163.0 329.5) rotate(-65)" y="1.8" font-size="5.2">Lăzarea</text>
<text transform="translate(182.0 333.5) rotate(-62)" y="1.8" font-size="5.0">Chiurutul de Mijloc</text>
<text transform="translate(200.5 334.0) rotate(-50)" y="1.8" font-size="5.0">Chiurutul Mic</text>
<text transform="translate(183.3 281.5) rotate(-82)" y="1.8" font-size="5.0">Chiurutul Mare</text>
<text transform="translate(258.8 312.0) rotate(65)" y="1.8" font-size="5.2">Ceuta</text>
<text transform="translate(327.7 315.8) rotate(60)" y="1.8" font-size="5.2">Chiurutul</text>
<text transform="translate(358.3 330.4) rotate(45)" y="1.8" font-size="5.2">Pârâul</text>
<text transform="translate(365.0 264.5) rotate(75)" y="1.8" font-size="5.0">Belcina</text>
</g>
<text x="83.2" y="26.0" font-size="9.4" font-weight="bold" font-style="italic" fill="#111">Jolotca</text>
<text x="341.0" y="34.3" font-size="9.4" font-weight="bold" font-style="italic" fill="#111">Hagota</text>
<text x="56.0" y="208.5" font-size="9.4" font-weight="bold" font-style="italic" fill="#111">Ditrău</text>
<text x="106.2" y="238.5" font-size="9.4" font-weight="bold" font-style="italic" fill="#111">Ghidut</text>
<text x="83.0" y="301.3" font-size="9.4" font-weight="bold" font-style="italic" fill="#111">Lăzarea</text>
<circle cx="80.7" cy="29.8" r="1.8" fill="none" stroke="#7a7a30" stroke-width="0.6" opacity="0.8"/>
<circle cx="53.2" cy="212.6" r="1.8" fill="none" stroke="#7a7a30" stroke-width="0.6" opacity="0.8"/>
<circle cx="79.8" cy="305.8" r="1.8" fill="none" stroke="#7a7a30" stroke-width="0.6" opacity="0.8"/>
<text x="24.2" y="354" font-size="7.4" font-style="italic" text-anchor="middle" fill="#2a1a10">0</text><text x="46.4" y="354" font-size="7.4" font-style="italic" text-anchor="middle" fill="#2a1a10">1</text><text x="68.2" y="354" font-size="7.4" font-style="italic" text-anchor="middle" fill="#2a1a10">2</text><text x="89.8" y="354" font-size="7.4" font-style="italic" text-anchor="middle" fill="#2a1a10">3</text><text x="111.7" y="354" font-size="7.4" font-style="italic" text-anchor="middle" fill="#2a1a10">4</text><text x="134.2" y="354" font-size="7.4" font-style="italic" text-anchor="middle" fill="#2a1a10">5</text><text x="143.5" y="354" font-size="7.4" font-style="italic" fill="#2a1a10">Km</text><rect x="23.9" y="361.6" width="6.0" height="2.9" fill="#5a6470"/><rect x="35.2" y="361.6" width="5.9" height="2.9" fill="#5a6470"/><rect x="45.9" y="361.6" width="22.3" height="2.9" fill="#5a6470"/><rect x="89.8" y="361.6" width="22.2" height="2.9" fill="#5a6470"/><line x1="68.2" y1="361.9" x2="134" y2="361.9" stroke="#6a5050" stroke-width="0.5"/>
<g fill="#2a1a10" fill-opacity="0.6" stroke="#2a1a10" stroke-width="0.45" opacity="0.85"><path d="M50.0 310.7L51.0 320.2L60.2 321.2L51.0 322.2L50.0 331.4L49.0 322.2L39.0 321.2L49.0 320.2Z"/></g>
<circle cx="50" cy="310.5" r="0.9" fill="#2a2a2a"/>
<rect x="17.8" y="14.1" width="354.1" height="356.9" fill="none" stroke="#3b5a30" stroke-width="1.4"/>
<line x1="245.5" y1="9.5" x2="245.5" y2="14" stroke="#333" stroke-width="1"/>
<line x1="248.5" y1="370.5" x2="248.5" y2="375.5" stroke="#333" stroke-width="1"/>
<line x1="13.8" y1="82.6" x2="17.5" y2="82.6" stroke="#333" stroke-width="1"/>
<line x1="372" y1="79.5" x2="377" y2="79.5" stroke="#333" stroke-width="1"/>
<text x="248" y="386.7" text-anchor="middle" font-size="8.4" font-weight="bold" fill="#222" textLength="39" lengthAdjust="spacingAndGlyphs">25°37'30"E</text>
<text transform="translate(6.3 82) rotate(-90) scale(1 0.72)" text-anchor="middle" font-size="8.4" font-weight="bold" fill="#222" stroke="#222" stroke-width="0.25" textLength="36.5" lengthAdjust="spacingAndGlyphs">46°51'0"N</text>
<text x="381.5" y="115.3" font-size="12.4" font-weight="bold" fill="#222">pH</text>
<rect x="382" y="124.3" width="16.5" height="10.6" fill="#006400" stroke="#333" stroke-width="0.8"/>
<text x="381.5" y="145.4" font-size="7.9" fill="#333">3.38 - 3.86</text>
<rect x="382" y="151.3" width="16.5" height="10.6" fill="#488200" stroke="#333" stroke-width="0.8"/>
<text x="381.5" y="172.4" font-size="7.9" fill="#333">3.87 - 4.33</text>
<rect x="382" y="178.3" width="16.5" height="10.6" fill="#84b000" stroke="#333" stroke-width="0.8"/>
<text x="381.5" y="199.4" font-size="7.9" fill="#333">4.34 - 4.8</text>
<rect x="382" y="205.3" width="16.5" height="10.6" fill="#bbd500" stroke="#333" stroke-width="0.8"/>
<text x="381.5" y="226.4" font-size="7.9" fill="#333">4.81 - 5.28</text>
<rect x="382" y="232.3" width="16.5" height="10.6" fill="#ffff00" stroke="#333" stroke-width="0.8"/>
<text x="381.5" y="253.4" font-size="7.9" fill="#333">5.29 - 5.75</text>
<rect x="382" y="259.3" width="16.5" height="10.6" fill="#ffcc00" stroke="#333" stroke-width="0.8"/>
<text x="381.5" y="280.4" font-size="7.9" fill="#333">5.76 - 6.22</text>
<rect x="382" y="286.3" width="16.5" height="10.6" fill="#ffa000" stroke="#333" stroke-width="0.8"/>
<text x="381.5" y="307.4" font-size="7.9" fill="#333">6.23 - 6.7</text>
<rect x="382" y="313.3" width="16.5" height="10.6" fill="#ff6600" stroke="#333" stroke-width="0.8"/>
<text x="381.5" y="334.4" font-size="7.9" fill="#333">6.71 - 7.17</text>
<rect x="382" y="340.3" width="16.5" height="10.6" fill="#ff2a00" stroke="#333" stroke-width="0.8"/>
<text x="381.5" y="361.4" font-size="7.9" fill="#333">7.18 - 7.64</text>
<text x="385.3" y="393.2" font-size="13.6" font-weight="bold" fill="#222">(a)</text>
<line x1="483.7" y1="150.4" x2="772.2" y2="150.4" stroke="#d9d9d9" stroke-width="1"/>
<line x1="483.7" y1="114.3" x2="772.2" y2="114.3" stroke="#d9d9d9" stroke-width="1"/>
<line x1="483.7" y1="78.2" x2="772.2" y2="78.2" stroke="#d9d9d9" stroke-width="1"/>
<line x1="483.7" y1="42.0" x2="772.2" y2="42.0" stroke="#d9d9d9" stroke-width="1"/>
<line x1="483.7" y1="5.9" x2="772.2" y2="5.9" stroke="#d9d9d9" stroke-width="1"/>
<line x1="483.7" y1="5.9" x2="483.7" y2="150.4" stroke="#d9d9d9" stroke-width="1"/>
<line x1="579.9" y1="5.9" x2="579.9" y2="150.4" stroke="#d9d9d9" stroke-width="1"/>
<line x1="676.0" y1="5.9" x2="676.0" y2="150.4" stroke="#d9d9d9" stroke-width="1"/>
<line x1="772.2" y1="5.9" x2="772.2" y2="150.4" stroke="#d9d9d9" stroke-width="1"/>
<text x="473.8" y="154.7" text-anchor="end" font-size="12" fill="#595959">0</text>
<text x="473.8" y="118.6" text-anchor="end" font-size="12" fill="#595959">2</text>
<text x="473.8" y="82.5" text-anchor="end" font-size="12" fill="#595959">4</text>
<text x="473.8" y="46.3" text-anchor="end" font-size="12" fill="#595959">6</text>
<text x="473.8" y="10.2" text-anchor="end" font-size="12" fill="#595959">8</text>
<text x="483.7" y="169.0" text-anchor="middle" font-size="12" fill="#595959">0</text>
<text x="579.9" y="169.0" text-anchor="middle" font-size="12" fill="#595959">200</text>
<text x="676.0" y="169.0" text-anchor="middle" font-size="12" fill="#595959">400</text>
<text x="772.2" y="169.0" text-anchor="middle" font-size="12" fill="#595959">600</text>
<text x="626.0" y="191.3" text-anchor="middle" font-size="12.7" font-weight="bold" fill="#303030">∑LREEs (μg/g)</text>
<text transform="translate(451.2 82.9) rotate(-90)" text-anchor="middle" font-size="12.8" font-weight="bold" fill="#333" y="4.5">pH</text>
<line x1="505.4" y1="67.1" x2="738.5" y2="50.8" stroke="#70ad47" stroke-width="1.6" stroke-dasharray="1.5 2.2"/>
<circle cx="613.5" cy="64.8" r="3.1" fill="#70ad47"/>
<circle cx="587.8" cy="58.2" r="3.1" fill="#70ad47"/>
<circle cx="534.5" cy="61.9" r="3.1" fill="#70ad47"/>
<circle cx="540.6" cy="60.3" r="3.1" fill="#70ad47"/>
<circle cx="536.9" cy="67.7" r="3.1" fill="#70ad47"/>
<circle cx="546.0" cy="67.3" r="3.1" fill="#70ad47"/>
<circle cx="556.3" cy="68.5" r="3.1" fill="#70ad47"/>
<circle cx="534.5" cy="72.2" r="3.1" fill="#70ad47"/>
<circle cx="538.6" cy="74.7" r="3.1" fill="#70ad47"/>
<circle cx="547.2" cy="75.5" r="3.1" fill="#70ad47"/>
<circle cx="553.4" cy="75.5" r="3.1" fill="#70ad47"/>
<circle cx="542.7" cy="73.5" r="3.1" fill="#70ad47"/>
<circle cx="550.5" cy="71.5" r="3.1" fill="#70ad47"/>
<circle cx="505.9" cy="84.4" r="3.1" fill="#70ad47"/>
<circle cx="514.4" cy="79.6" r="3.1" fill="#70ad47"/>
<circle cx="528.1" cy="78.1" r="3.1" fill="#70ad47"/>
<circle cx="551.4" cy="17.1" r="3.1" fill="#70ad47"/>
<circle cx="542.5" cy="36.4" r="3.1" fill="#70ad47"/>
<circle cx="545.5" cy="44.4" r="3.1" fill="#70ad47"/>
<circle cx="557.8" cy="42.1" r="3.1" fill="#70ad47"/>
<circle cx="576.9" cy="43.8" r="3.1" fill="#70ad47"/>
<circle cx="528.8" cy="52.0" r="3.1" fill="#70ad47"/>
<circle cx="532.8" cy="51.2" r="3.1" fill="#70ad47"/>
<circle cx="558.4" cy="51.2" r="3.1" fill="#70ad47"/>
<circle cx="563.7" cy="78.1" r="3.1" fill="#70ad47"/>
<circle cx="573.9" cy="78.1" r="3.1" fill="#70ad47"/>
<circle cx="582.8" cy="81.7" r="3.1" fill="#70ad47"/>
<circle cx="569.4" cy="58.4" r="3.1" fill="#70ad47"/>
<circle cx="574.7" cy="60.5" r="3.1" fill="#70ad47"/>
<circle cx="567.3" cy="63.3" r="3.1" fill="#70ad47"/>
<circle cx="576.9" cy="63.3" r="3.1" fill="#70ad47"/>
<circle cx="570.5" cy="68.1" r="3.1" fill="#70ad47"/>
<circle cx="585.3" cy="62.2" r="3.1" fill="#70ad47"/>
<circle cx="592.2" cy="50.3" r="3.1" fill="#70ad47"/>
<circle cx="599.2" cy="50.3" r="3.1" fill="#70ad47"/>
<circle cx="591.2" cy="55.8" r="3.1" fill="#70ad47"/>
<circle cx="605.0" cy="55.8" r="3.1" fill="#70ad47"/>
<circle cx="609.2" cy="55.4" r="3.1" fill="#70ad47"/>
<circle cx="612.4" cy="51.6" r="3.1" fill="#70ad47"/>
<circle cx="614.5" cy="53.3" r="3.1" fill="#70ad47"/>
<circle cx="585.9" cy="61.1" r="3.1" fill="#70ad47"/>
<circle cx="592.9" cy="60.5" r="3.1" fill="#70ad47"/>
<circle cx="587.0" cy="66.4" r="3.1" fill="#70ad47"/>
<circle cx="591.8" cy="69.6" r="3.1" fill="#70ad47"/>
<circle cx="595.0" cy="67.5" r="3.1" fill="#70ad47"/>
<circle cx="601.4" cy="65.4" r="3.1" fill="#70ad47"/>
<circle cx="611.3" cy="68.6" r="3.1" fill="#70ad47"/>
<circle cx="614.1" cy="62.6" r="3.1" fill="#70ad47"/>
<circle cx="595.0" cy="77.5" r="3.1" fill="#70ad47"/>
<circle cx="633.6" cy="66.4" r="3.1" fill="#70ad47"/>
<circle cx="640.3" cy="49.1" r="3.1" fill="#70ad47"/>
<circle cx="648.0" cy="53.7" r="3.1" fill="#70ad47"/>
<circle cx="653.0" cy="45.9" r="3.1" fill="#70ad47"/>
<circle cx="656.4" cy="41.0" r="3.1" fill="#70ad47"/>
<circle cx="571.0" cy="68.6" r="3.1" fill="#70ad47"/>
<circle cx="671.9" cy="55.1" r="3.1" fill="#70ad47"/>
<circle cx="687.0" cy="57.5" r="3.1" fill="#70ad47"/>
<circle cx="703.0" cy="68.3" r="3.1" fill="#70ad47"/>
<circle cx="718.1" cy="61.3" r="3.1" fill="#70ad47"/>
<circle cx="719.8" cy="46.0" r="3.1" fill="#70ad47"/>
<circle cx="738.2" cy="50.5" r="3.1" fill="#70ad47"/>
<text x="697.0" y="26.9" font-size="11.5" fill="#404040">R² = 0.0795</text>
<text x="727.8" y="100.8" font-size="12.5" font-weight="bold" font-family="'Liberation Serif', serif" fill="#111">(b)</text>
<line x1="480.4" y1="380.4" x2="781.1" y2="380.4" stroke="#d9d9d9" stroke-width="1"/>
<line x1="480.4" y1="342.1" x2="781.1" y2="342.1" stroke="#d9d9d9" stroke-width="1"/>
<line x1="480.4" y1="303.8" x2="781.1" y2="303.8" stroke="#d9d9d9" stroke-width="1"/>
<line x1="480.4" y1="265.5" x2="781.1" y2="265.5" stroke="#d9d9d9" stroke-width="1"/>
<line x1="480.4" y1="227.2" x2="781.1" y2="227.2" stroke="#d9d9d9" stroke-width="1"/>
<line x1="480.4" y1="227.2" x2="480.4" y2="380.4" stroke="#d9d9d9" stroke-width="1"/>
<line x1="580.6" y1="227.2" x2="580.6" y2="380.4" stroke="#d9d9d9" stroke-width="1"/>
<line x1="680.9" y1="227.2" x2="680.9" y2="380.4" stroke="#d9d9d9" stroke-width="1"/>
<line x1="781.1" y1="227.2" x2="781.1" y2="380.4" stroke="#d9d9d9" stroke-width="1"/>
<text x="470.3" y="384.7" text-anchor="end" font-size="12" fill="#595959">0</text>
<text x="470.3" y="346.4" text-anchor="end" font-size="12" fill="#595959">2</text>
<text x="470.3" y="308.1" text-anchor="end" font-size="12" fill="#595959">4</text>
<text x="470.3" y="269.8" text-anchor="end" font-size="12" fill="#595959">6</text>
<text x="470.3" y="231.5" text-anchor="end" font-size="12" fill="#595959">8</text>
<text x="480.4" y="398.3" text-anchor="middle" font-size="12" fill="#595959">0</text>
<text x="580.6" y="398.3" text-anchor="middle" font-size="12" fill="#595959">20</text>
<text x="680.9" y="398.3" text-anchor="middle" font-size="12" fill="#595959">40</text>
<text x="781.1" y="398.3" text-anchor="middle" font-size="12" fill="#595959">60</text>
<text x="621.5" y="421.0" text-anchor="middle" font-size="12.7" font-weight="bold" fill="#303030">∑HREEs (μg/g)</text>
<text transform="translate(447.6 309.8) rotate(-90)" text-anchor="middle" font-size="12.8" font-weight="bold" fill="#333" y="4.5">pH</text>
<line x1="501.0" y1="298.1" x2="746.5" y2="261.5" stroke="#70ad47" stroke-width="1.6" stroke-dasharray="1.5 2.2"/>
<circle cx="556.0" cy="292.8" r="3.1" fill="#70ad47"/>
<circle cx="560.5" cy="293.8" r="3.1" fill="#70ad47"/>
<circle cx="566.0" cy="289.5" r="3.1" fill="#70ad47"/>
<circle cx="501.0" cy="310.8" r="3.1" fill="#70ad47"/>
<circle cx="508.0" cy="305.5" r="3.1" fill="#70ad47"/>
<circle cx="517.5" cy="300.4" r="3.1" fill="#70ad47"/>
<circle cx="520.3" cy="303.4" r="3.1" fill="#70ad47"/>
<circle cx="522.8" cy="299.8" r="3.1" fill="#70ad47"/>
<circle cx="520.3" cy="292.0" r="3.1" fill="#70ad47"/>
<circle cx="524.3" cy="285.4" r="3.1" fill="#70ad47"/>
<circle cx="528.8" cy="285.4" r="3.1" fill="#70ad47"/>
<circle cx="530.3" cy="293.0" r="3.1" fill="#70ad47"/>
<circle cx="529.8" cy="297.0" r="3.1" fill="#70ad47"/>
<circle cx="532.4" cy="300.8" r="3.1" fill="#70ad47"/>
<circle cx="533.4" cy="298.3" r="3.1" fill="#70ad47"/>
<circle cx="537.0" cy="275.4" r="3.1" fill="#70ad47"/>
<circle cx="538.7" cy="303.4" r="3.1" fill="#70ad47"/>
<circle cx="544.7" cy="287.7" r="3.1" fill="#70ad47"/>
<circle cx="547.2" cy="291.3" r="3.1" fill="#70ad47"/>
<circle cx="548.3" cy="300.8" r="3.1" fill="#70ad47"/>
<circle cx="550.0" cy="307.6" r="3.1" fill="#70ad47"/>
<circle cx="550.4" cy="304.0" r="3.1" fill="#70ad47"/>
<circle cx="551.9" cy="274.8" r="3.1" fill="#70ad47"/>
<circle cx="551.9" cy="285.0" r="3.1" fill="#70ad47"/>
<circle cx="551.9" cy="293.4" r="3.1" fill="#70ad47"/>
<circle cx="559.9" cy="283.9" r="3.1" fill="#70ad47"/>
<circle cx="558.9" cy="291.3" r="3.1" fill="#70ad47"/>
<circle cx="562.0" cy="290.3" r="3.1" fill="#70ad47"/>
<circle cx="564.6" cy="294.5" r="3.1" fill="#70ad47"/>
<circle cx="566.3" cy="288.1" r="3.1" fill="#70ad47"/>
<circle cx="569.4" cy="287.1" r="3.1" fill="#70ad47"/>
<circle cx="570.5" cy="282.8" r="3.1" fill="#70ad47"/>
<circle cx="569.9" cy="302.5" r="3.1" fill="#70ad47"/>
<circle cx="567.8" cy="258.9" r="3.1" fill="#70ad47"/>
<circle cx="567.8" cy="265.9" r="3.1" fill="#70ad47"/>
<circle cx="574.7" cy="266.9" r="3.1" fill="#70ad47"/>
<circle cx="577.3" cy="286.0" r="3.1" fill="#70ad47"/>
<circle cx="582.2" cy="286.4" r="3.1" fill="#70ad47"/>
<circle cx="583.2" cy="268.0" r="3.1" fill="#70ad47"/>
<circle cx="584.9" cy="270.1" r="3.1" fill="#70ad47"/>
<circle cx="588.5" cy="275.4" r="3.1" fill="#70ad47"/>
<circle cx="588.5" cy="282.8" r="3.1" fill="#70ad47"/>
<circle cx="588.5" cy="288.1" r="3.1" fill="#70ad47"/>
<circle cx="587.9" cy="295.6" r="3.1" fill="#70ad47"/>
<circle cx="635.7" cy="238.5" r="3.1" fill="#70ad47"/>
<circle cx="648.4" cy="264.5" r="3.1" fill="#70ad47"/>
<circle cx="655.4" cy="273.0" r="3.1" fill="#70ad47"/>
<circle cx="666.8" cy="279.2" r="3.1" fill="#70ad47"/>
<circle cx="637.4" cy="275.1" r="3.1" fill="#70ad47"/>
<circle cx="628.9" cy="276.6" r="3.1" fill="#70ad47"/>
<circle cx="627.2" cy="279.8" r="3.1" fill="#70ad47"/>
<circle cx="624.0" cy="287.2" r="3.1" fill="#70ad47"/>
<circle cx="618.7" cy="284.0" r="3.1" fill="#70ad47"/>
<circle cx="615.6" cy="279.8" r="3.1" fill="#70ad47"/>
<circle cx="612.4" cy="277.7" r="3.1" fill="#70ad47"/>
<circle cx="608.8" cy="274.9" r="3.1" fill="#70ad47"/>
<circle cx="611.3" cy="284.7" r="3.1" fill="#70ad47"/>
<circle cx="612.4" cy="289.7" r="3.1" fill="#70ad47"/>
<circle cx="606.7" cy="291.0" r="3.1" fill="#70ad47"/>
<circle cx="602.8" cy="287.2" r="3.1" fill="#70ad47"/>
<circle cx="598.6" cy="293.6" r="3.1" fill="#70ad47"/>
<circle cx="595.0" cy="290.8" r="3.1" fill="#70ad47"/>
<circle cx="589.5" cy="287.6" r="3.1" fill="#70ad47"/>
<circle cx="590.1" cy="282.5" r="3.1" fill="#70ad47"/>
<circle cx="590.1" cy="275.6" r="3.1" fill="#70ad47"/>
<circle cx="596.9" cy="274.5" r="3.1" fill="#70ad47"/>
<circle cx="593.3" cy="277.7" r="3.1" fill="#70ad47"/>
<circle cx="578.0" cy="285.7" r="3.1" fill="#70ad47"/>
<circle cx="582.3" cy="286.6" r="3.1" fill="#70ad47"/>
<circle cx="588.4" cy="296.1" r="3.1" fill="#70ad47"/>
<circle cx="571.0" cy="303.1" r="3.1" fill="#70ad47"/>
<circle cx="688.3" cy="281.3" r="3.1" fill="#70ad47"/>
<circle cx="724.2" cy="274.7" r="3.1" fill="#70ad47"/>
<circle cx="746.5" cy="269.2" r="3.1" fill="#70ad47"/>
<text x="693.9" y="248.5" font-size="11.5" fill="#404040">R² = 0.3207</text>
<text x="734.4" y="324.6" font-size="12.4" font-weight="bold" fill="#111">(c)</text>
<rect x="725.5" y="339" width="51" height="4" fill="#fff"/>
</svg>
</body></html>
